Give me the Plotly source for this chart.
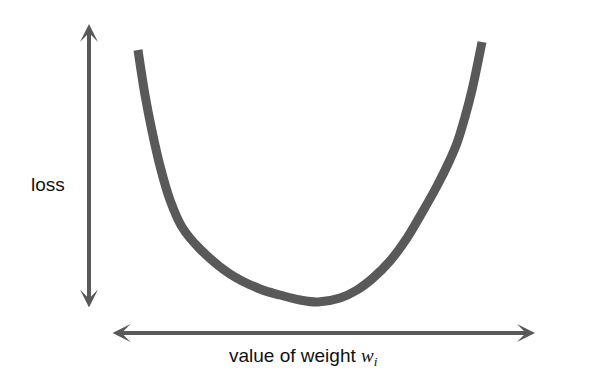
import plotly.graph_objects as go

# Curve (schematic units: x = weight, y = loss, y grows downward)
weight = [138, 145, 152, 160, 170, 182, 200, 230, 260, 280, 300, 318, 340, 357, 373, 390, 407, 423, 437, 448, 457, 465, 472, 482]
loss = [50, 95, 131, 166, 200, 227, 249, 274, 289, 295, 300, 302, 298, 290, 278, 261, 238, 211, 186, 164, 143, 117, 90, 42]

x_label = "value of weight <span style='font-family:\"Liberation Serif\", serif'><i>w</i><sub><i>i</i></sub></span>"
y_label = "loss"

GRAY = "#595959"

fig = go.Figure()
fig.add_trace(go.Scatter(
    x=weight, y=loss, mode="lines",
    line=dict(color=GRAY, width=9, shape="spline", smoothing=1.0),
    hoverinfo="skip", showlegend=False,
))

arrow_common = dict(
    xref="x", yref="y", axref="x", ayref="y", text="", showarrow=True,
    arrowhead=3, startarrowhead=3, arrowside="end+start",
    arrowsize=0.75, startarrowsize=0.75, arrowwidth=4, arrowcolor=GRAY,
)
# vertical (loss) axis arrow
fig.add_annotation(x=89, y=24, ax=89, ay=309, **arrow_common)
# horizontal (weight) axis arrow
fig.add_annotation(x=535, y=333, ax=111, ay=333, **arrow_common)

fig.add_annotation(x=48, y=184, text=y_label, showarrow=False, xref="x", yref="y",
                   font=dict(family="Liberation Sans, Arial", size=19, color="#111111"))
fig.add_annotation(x=303, y=357, text=x_label, showarrow=False, xref="x", yref="y",
                   font=dict(family="Liberation Sans, Arial", size=19, color="#111111"))

fig.update_layout(
    width=593, height=383, margin=dict(l=0, r=0, t=0, b=0),
    paper_bgcolor="white", plot_bgcolor="white",
    xaxis=dict(range=[0, 593], visible=False, fixedrange=True),
    yaxis=dict(range=[383, 0], visible=False, fixedrange=True),
)
fig.write_html("out.html")
